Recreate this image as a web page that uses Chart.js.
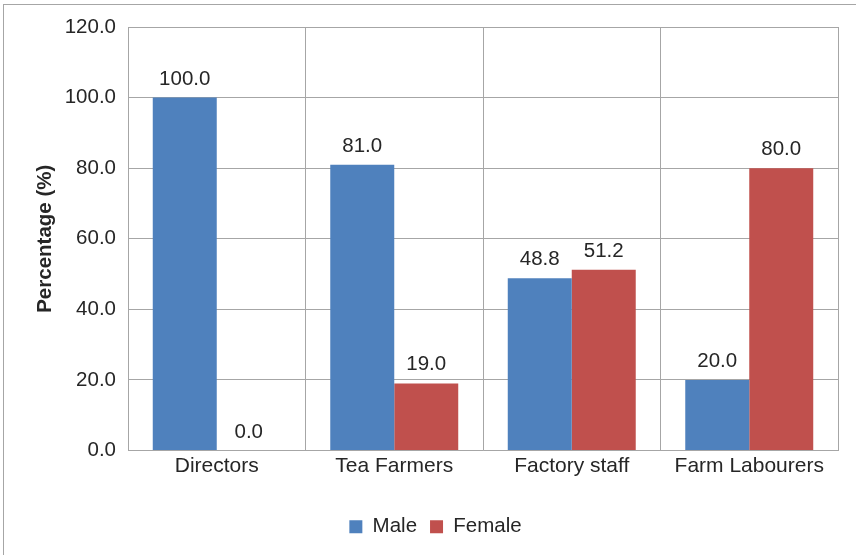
<!DOCTYPE html>
<html>
<head>
<meta charset="utf-8">
<script src="https://cdn.jsdelivr.net/npm/chart.js@4/dist/chart.umd.min.js"></script>
<style>
  html, body { margin: 0; padding: 0; background: #fff; overflow: hidden; }
  #wrap { position: relative; width: 856px; height: 555px; }
  #frame {
    position: absolute; left: 3px; top: 4px; width: 900px; height: 600px;
    border-top: 1px solid #a6a6a6; border-left: 1px solid #a6a6a6;
  }
  canvas { position: absolute; left: 0; top: 0; }
</style>
</head>
<body>
<div id="wrap">
  <div id="frame"></div>
  <canvas id="grafico" width="856" height="555"></canvas>
</div>
<script>
var categorias = ['Directors', 'Tea Farmers', 'Factory staff', 'Farm Labourers'];
var male = [100.0, 81.0, 48.8, 20.0];
var female = [0.0, 19.0, 51.2, 80.0];
var yTicks = [0, 20, 40, 60, 80, 100, 120];

var fonte = 'Liberation Sans, Arial, sans-serif';
var corTexto = '#262626';
var corGrade = '#a6a6a6';

// value labels above each bar
var rotulos = {
    id: 'rotulos',
    afterDatasetsDraw: function(chart) {
        var ctx = chart.ctx;
        ctx.save();
        ctx.font = '20.5px ' + fonte;
        ctx.fillStyle = corTexto;
        ctx.textAlign = 'center';
        ctx.textBaseline = 'alphabetic';
        chart.data.datasets.forEach(function(ds, i) {
            chart.getDatasetMeta(i).data.forEach(function(bar, j) {
                ctx.fillText(ds.data[j].toFixed(1), bar.x, bar.y - 13);
            });
        });
        ctx.restore();
    }
};

var data = {
    labels: categorias,
    datasets: [
        {
            label: 'Male',
            data: male,
            backgroundColor: '#4f81bd',
            borderWidth: 0
        },
        {
            label: 'Female',
            data: female,
            backgroundColor: '#c0504d',
            borderWidth: 0
        }
    ]
};

var config = {
    type: 'bar',
    data: data,
    options: {
        responsive: false,
        animation: false,
        layout: {
            padding: { left: 33, top: 27, right: 18, bottom: 8 }
        },
        datasets: {
            bar: { categoryPercentage: 0.721, barPercentage: 1.0 }
        },
        scales: {
            x: {
                grid: { color: corGrade, offset: true, drawTicks: false, lineWidth: 1 },
                border: { color: corGrade },
                ticks: {
                    color: corTexto,
                    padding: 3,
                    maxRotation: 0,
                    font: { family: fonte, size: 21 }
                },
                afterFit: function(scale) { scale.height = 53; }
            },
            y: {
                min: 0,
                max: 120,
                afterBuildTicks: function(scale) {
                    scale.ticks = yTicks.map(function(v) { return { value: v }; });
                },
                grid: { color: corGrade, drawTicks: false },
                border: { color: corGrade },
                ticks: {
                    color: corTexto,
                    padding: 12,
                    font: { family: fonte, size: 20.5 },
                    callback: function(v) { return Number(v).toFixed(1); }
                },
                title: {
                    display: true,
                    text: 'Percentage (%)',
                    color: corTexto,
                    padding: { top: 0, bottom: 0 },
                    font: { family: fonte, size: 20.5, weight: 'bold' }
                },
                afterFit: function(scale) { scale.width = 95; }
            }
        },
        plugins: {
            legend: {
                position: 'bottom',
                labels: {
                    color: corTexto,
                    boxWidth: 13,
                    boxHeight: 13,
                    padding: 13,
                    font: { family: fonte, size: 20.5 }
                }
            },
            tooltip: { enabled: false }
        }
    },
    plugins: [rotulos]
};

var grafico = new Chart(document.getElementById('grafico'), config);
</script>
</body>
</html>
